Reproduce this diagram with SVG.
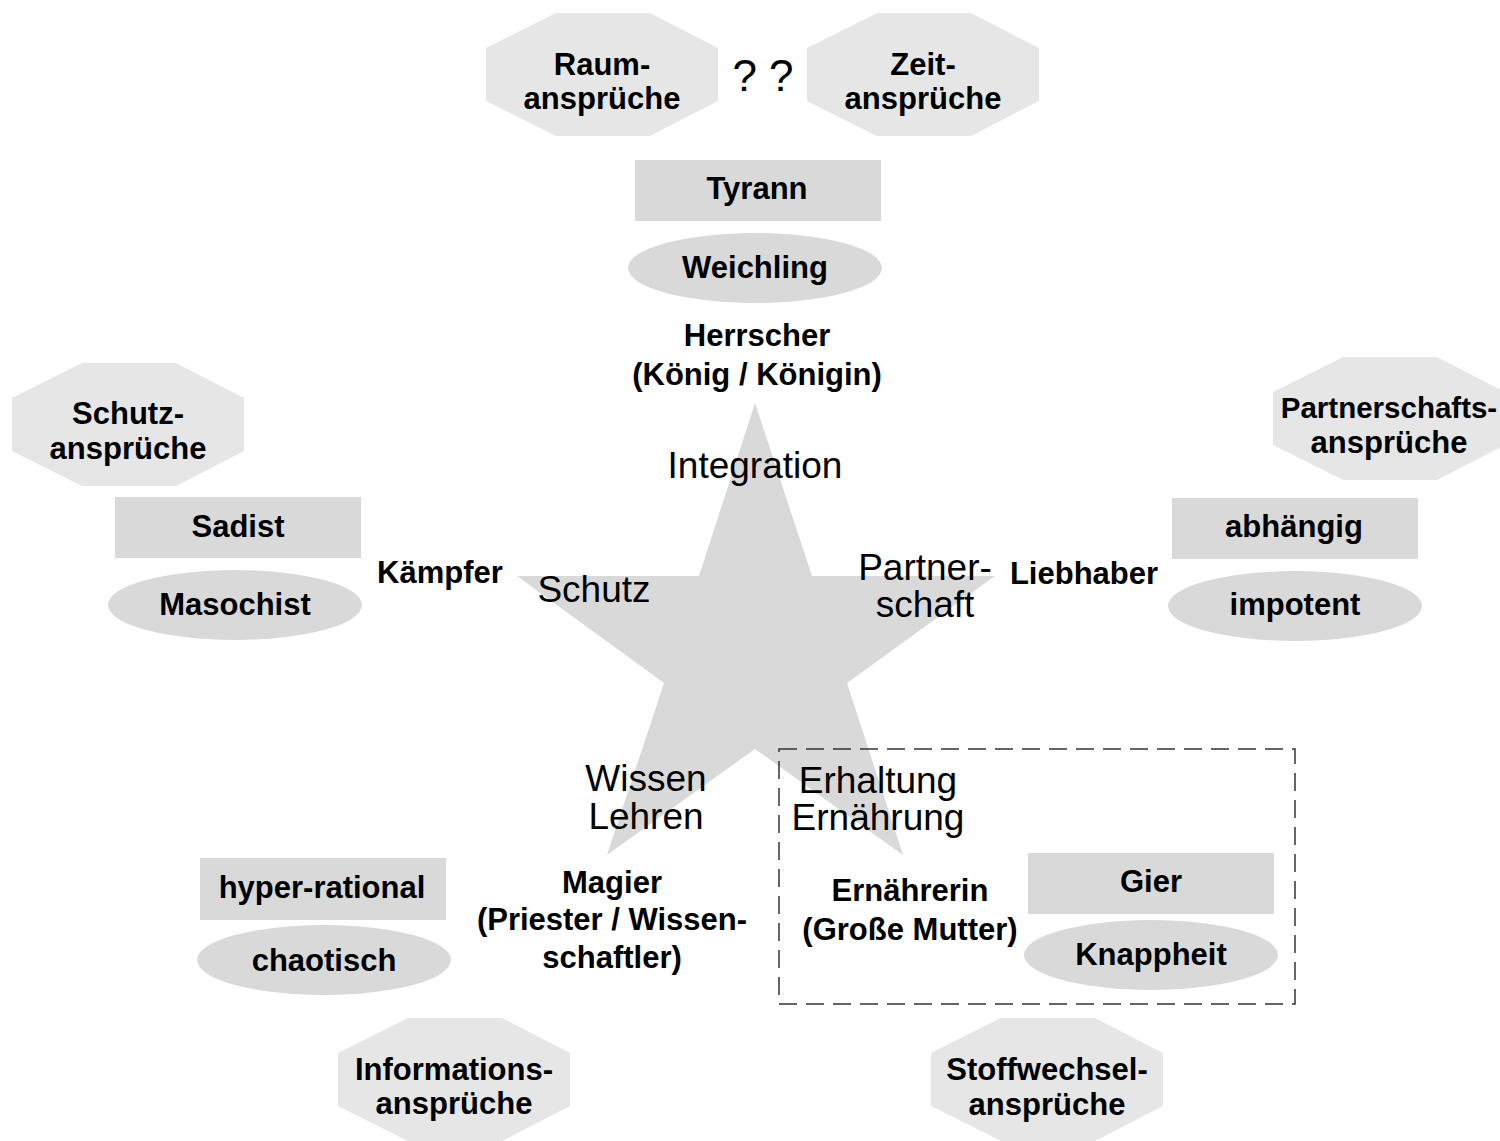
<svg xmlns="http://www.w3.org/2000/svg" width="1500" height="1141" viewBox="0 0 1500 1141">
<style>
.oct{fill:#e6e6e6}
.box{fill:#d9d9d9}
.ell{fill:#d9d9d9}
.star{fill:#d9d9d9}
.b{font-family:"Liberation Sans",Arial,sans-serif;font-weight:bold;font-size:31px;fill:#000;text-anchor:middle}
.r{font-family:"Liberation Sans",Arial,sans-serif;font-size:37px;fill:#000;text-anchor:middle}
.q{font-family:"Liberation Sans",Arial,sans-serif;font-size:44px;fill:#000;text-anchor:middle}
.dash{fill:none;stroke:#333;stroke-width:1.5;stroke-dasharray:18 9}
</style>
<defs>
<polygon id="octShape" points="70,0 164,0 232,35 232,88 164,123 70,123 0,88 0,35"/>
</defs>
<rect width="1500" height="1141" fill="#fff"/>

<g id="star">
<polygon class="star" points="755,403 812,576 995,576 847,683 903,855 755,749 607,855 664,683 517,576 699,576"/>
<text class="r" x="755" y="478">Integration</text>
<text class="r" x="594" y="602">Schutz</text>
<text class="r" x="925" y="580">Partner-</text>
<text class="r" x="925" y="617">schaft</text>
<text class="r" x="646" y="791">Wissen</text>
<text class="r" x="646" y="829">Lehren</text>
</g>

<g id="erhaltung-group">
<rect class="dash" x="779" y="749" width="516" height="255"/>
<text class="r" x="878" y="793">Erhaltung</text>
<text class="r" x="878" y="830">Ernährung</text>
</g>

<g id="connectors"></g>

<g id="raum">
<use href="#octShape" class="oct" x="486" y="13"/>
<text class="b" x="602" y="75">Raum-</text>
<text class="b" x="602" y="109">ansprüche</text>
</g>
<g id="fragen">
<text class="q" x="763" y="91">? ?</text>
</g>
<g id="zeit">
<use href="#octShape" class="oct" x="807" y="13"/>
<text class="b" x="923" y="75">Zeit-</text>
<text class="b" x="923" y="109">ansprüche</text>
</g>

<g id="tyrann">
<rect class="box" x="635" y="160" width="246" height="61"/>
<text class="b" x="757" y="199">Tyrann</text>
</g>
<g id="weichling">
<ellipse class="ell" cx="755" cy="268" rx="127" ry="35"/>
<text class="b" x="755" y="278">Weichling</text>
</g>
<g id="herrscher">
<text class="b" x="757" y="346">Herrscher</text>
<text class="b" x="757" y="385">(König / Königin)</text>
</g>

<g id="schutzansprueche">
<use href="#octShape" class="oct" x="12" y="363"/>
<text class="b" x="128" y="424">Schutz-</text>
<text class="b" x="128" y="459">ansprüche</text>
</g>
<g id="sadist">
<rect class="box" x="115" y="497" width="246" height="61"/>
<text class="b" x="238" y="537">Sadist</text>
</g>
<g id="masochist">
<ellipse class="ell" cx="235" cy="605" rx="127" ry="35"/>
<text class="b" x="235" y="615">Masochist</text>
</g>
<g id="kaempfer">
<text class="b" x="440" y="583">Kämpfer</text>
</g>

<g id="partnerschaftsansprueche">
<use href="#octShape" class="oct" x="1273" y="357"/>
<text class="b" x="1389" y="418" style="font-size:29.5px">Partnerschafts-</text>
<text class="b" x="1389" y="453">ansprüche</text>
</g>
<g id="abhaengig">
<rect class="box" x="1172" y="498" width="246" height="61"/>
<text class="b" x="1294" y="537">abhängig</text>
</g>
<g id="impotent">
<ellipse class="ell" cx="1295" cy="606" rx="127" ry="35"/>
<text class="b" x="1295" y="615">impotent</text>
</g>
<g id="liebhaber">
<text class="b" x="1084" y="584">Liebhaber</text>
</g>

<g id="hyperrational">
<rect class="box" x="200" y="858" width="246" height="62"/>
<text class="b" x="322" y="898">hyper-rational</text>
</g>
<g id="chaotisch">
<ellipse class="ell" cx="324" cy="960" rx="127" ry="35"/>
<text class="b" x="324" y="971">chaotisch</text>
</g>
<g id="magier">
<text class="b" x="612" y="893">Magier</text>
<text class="b" x="612" y="930">(Priester / Wissen-</text>
<text class="b" x="612" y="968">schaftler)</text>
</g>
<g id="informationsansprueche">
<use href="#octShape" class="oct" x="338" y="1018"/>
<text class="b" x="454" y="1080">Informations-</text>
<text class="b" x="454" y="1114">ansprüche</text>
</g>

<g id="ernaehrerin">
<text class="b" x="910" y="901">Ernährerin</text>
<text class="b" x="910" y="940">(Große Mutter)</text>
</g>
<g id="gier">
<rect class="box" x="1028" y="853" width="246" height="61"/>
<text class="b" x="1151" y="892">Gier</text>
</g>
<g id="knappheit">
<ellipse class="ell" cx="1151" cy="955" rx="127" ry="35"/>
<text class="b" x="1151" y="965">Knappheit</text>
</g>
<g id="stoffwechselansprueche">
<use href="#octShape" class="oct" x="931" y="1018"/>
<text class="b" x="1047" y="1080">Stoffwechsel-</text>
<text class="b" x="1047" y="1115">ansprüche</text>
</g>
</svg>
